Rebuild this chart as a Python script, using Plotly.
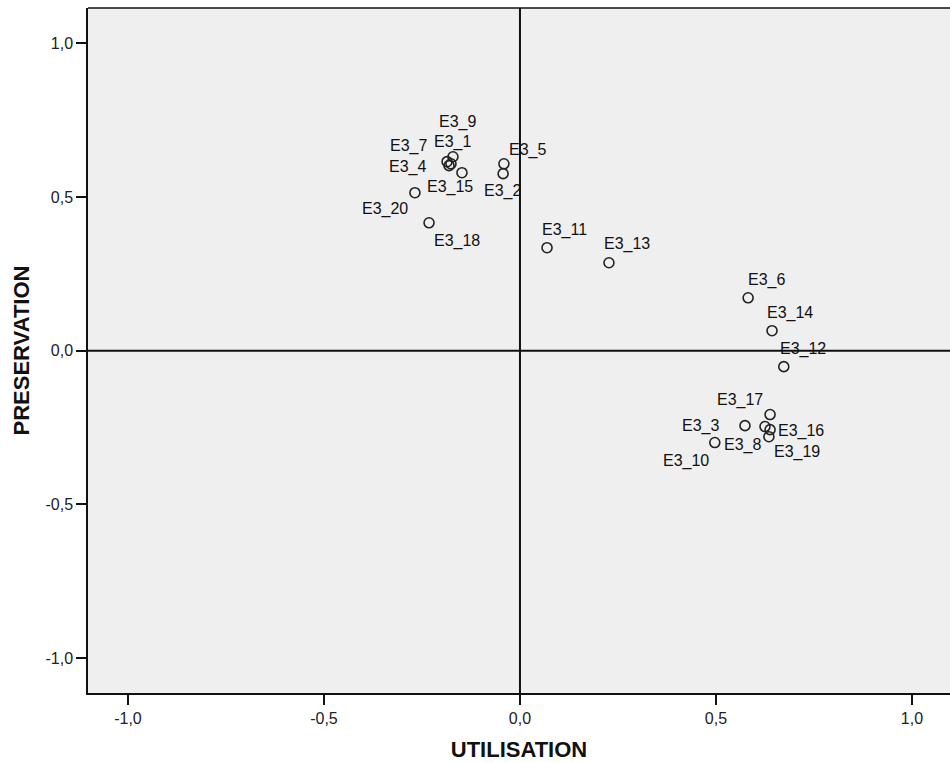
import plotly.graph_objects as go

labels = ["E3_9", "E3_1", "E3_7", "E3_4", "E3_15", "E3_5", "E3_2", "E3_20", "E3_18",
          "E3_11", "E3_13", "E3_6", "E3_14", "E3_12", "E3_17", "E3_3", "E3_16", "E3_8",
          "E3_19", "E3_10"]
utilisation = [-0.171, -0.176, -0.186, -0.181, -0.148, -0.041, -0.043, -0.268, -0.232,
               0.069, 0.227, 0.582, 0.643, 0.673, 0.638, 0.574, 0.625, 0.638, 0.635, 0.497]
preservation = [0.631, 0.608, 0.615, 0.602, 0.579, 0.608, 0.576, 0.514, 0.416,
                0.335, 0.286, 0.172, 0.065, -0.052, -0.208, -0.244, -0.247, -0.257,
                -0.280, -0.299]
tick_vals = [-1.0, -0.5, 0.0, 0.5, 1.0]
tick_text = ["-1,0", "-0,5", "0,0", "0,5", "1,0"]

# label offsets in pixels (dx right, dy down)
label_offsets = {
    "E3_9": (5, -35), "E3_1": (2, -22), "E3_7": (-39, -16), "E3_4": (-42, 1),
    "E3_15": (-12, 14), "E3_5": (24, -14), "E3_2": (-1, 17), "E3_20": (-30, 16),
    "E3_18": (28, 18), "E3_11": (17, -18), "E3_13": (18, -19), "E3_6": (18, -18),
    "E3_14": (18, -18), "E3_12": (19, -18), "E3_17": (-30, -15), "E3_3": (-44, 0),
    "E3_16": (36, 4), "E3_8": (-28, 15), "E3_19": (28, 15), "E3_10": (-29, 18),
}

FONT = "Liberation Sans, Arial, sans-serif"

fig = go.Figure()
fig.add_trace(go.Scatter(
    x=utilisation, y=preservation, mode="markers",
    marker=dict(symbol="circle-open", size=10, color="#222222", line=dict(width=1.6)),
    hoverinfo="text", text=labels, showlegend=False,
))

annotations = []
for lab, xv, yv in zip(labels, utilisation, preservation):
    dx, dy = label_offsets[lab]
    annotations.append(dict(
        x=xv, y=yv, xref="x", yref="y", text=lab, showarrow=False,
        xshift=dx, yshift=-dy, font=dict(family=FONT, size=16, color="#111111"),
    ))

shapes = [
    dict(type="line", xref="x", yref="paper", x0=0, x1=0, y0=0, y1=1,
         line=dict(color="#111111", width=2)),
    dict(type="line", xref="paper", yref="y", x0=0, x1=1, y0=0, y1=0,
         line=dict(color="#111111", width=2)),
    dict(type="line", xref="paper", yref="paper", x0=0, x1=1, y0=1, y1=1,
         line=dict(color="#111111", width=1.5)),
]

fig.update_layout(
    width=950, height=763,
    margin=dict(l=88, r=0, t=8, b=70),
    paper_bgcolor="white", plot_bgcolor="#efefef",
    annotations=annotations, shapes=shapes,
    font=dict(family=FONT, color="#111111"),
    xaxis=dict(
        range=[-1.102, 1.097], tickvals=tick_vals, ticktext=tick_text,
        ticks="outside", ticklen=10, tickwidth=1.5, tickcolor="#111111",
        showgrid=False, zeroline=False, showline=True, linecolor="#111111", linewidth=1.5,
        tickfont=dict(family=FONT, size=16, color="#222222"),
        title=dict(text="<b>UTILISATION</b>", font=dict(family=FONT, size=22, color="#111111"),
                   standoff=16),
    ),
    yaxis=dict(
        range=[-1.114, 1.115], tickvals=tick_vals, ticktext=tick_text,
        ticks="outside", ticklen=10, tickwidth=1.5, tickcolor="#111111",
        showgrid=False, zeroline=False, showline=True, linecolor="#111111", linewidth=1.5,
        tickfont=dict(family=FONT, size=16, color="#222222"),
        title=dict(text="<b>PRESERVATION</b>", font=dict(family=FONT, size=22, color="#111111"),
                   standoff=10),
    ),
)

fig.write_html("out.html", config={"displayModeBar": False},
               post_script="document.body.style.margin='0';document.body.style.overflow='hidden';")
